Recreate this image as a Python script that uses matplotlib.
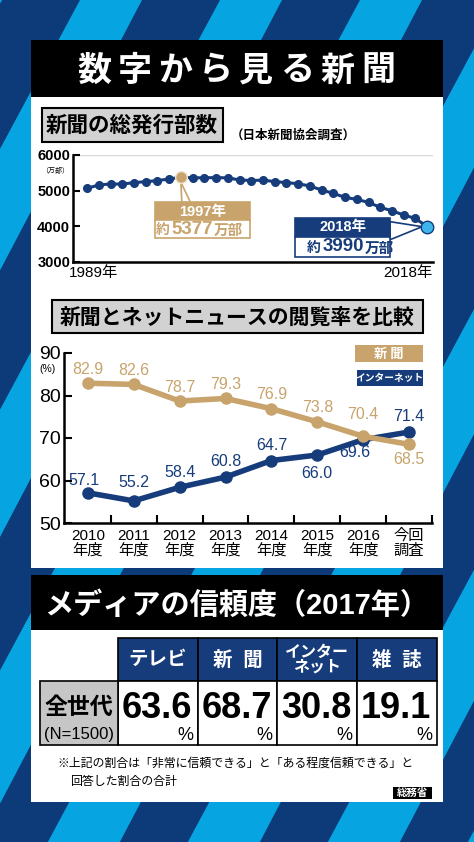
import matplotlib
matplotlib.use('Agg')
import matplotlib.pyplot as plt
from matplotlib.patches import Rectangle, Polygon

plt.rcParams['font.family'] = ['Liberation Sans', 'Noto Sans CJK JP']
JP = ['Noto Sans CJK JP', 'DejaVu Sans']

NAVY = '#163c7b'
GOLD = '#c8a46c'
BG_DARK = '#0d3a78'
BG_LIGHT = '#06a5e2'
W, H = 474, 842

# --- data ---
years = list(range(1989, 2019))
circulation = [5066, 5160, 5187, 5185, 5225, 5253, 5281, 5328, 5377, 5360,
               5362, 5365, 5360, 5300, 5285, 5295, 5255, 5225, 5195, 5131,
               5019, 4925, 4812, 4756, 4672, 4531, 4437, 4316, 4222, 3990]

survey_labels = ['2010\n年度', '2011\n年度', '2012\n年度', '2013\n年度',
                 '2014\n年度', '2015\n年度', '2016\n年度', '今回\n調査']
newspaper_rate = [82.9, 82.6, 78.7, 79.3, 76.9, 73.8, 70.4, 68.5]
internet_rate = [57.1, 55.2, 58.4, 60.8, 64.7, 66.0, 69.6, 71.4]

media = ['テレビ', '新  聞', 'インター\nネット', '雑  誌']
trust = [63.6, 68.7, 30.8, 19.1]


def box(x, y, w, h, fc, ec='none', lw=0, z=1):
    bg.add_patch(Rectangle((x, y), w, h, facecolor=fc, edgecolor=ec, lw=lw, zorder=z))


def to_px(ax, x, y):
    dx, dy = ax.transData.transform((x, y))
    return dx, H - dy


fig = plt.figure(figsize=(W / 100, H / 100), dpi=100)
bg = fig.add_axes([0, 0, 1, 1])
bg.set_xlim(0, W)
bg.set_ylim(H, 0)
bg.axis('off')

# background stripes
box(0, 0, W, H, BG_DARK, z=0)
s = -0.537
for k in range(-3, 7):
    x0 = 80 + 140 * k
    bg.add_patch(Polygon([(x0, 0), (x0 + 62, 0), (x0 + 72 + s * H, H), (x0 + s * H, H)],
                         closed=True, facecolor=BG_LIGHT, edgecolor='none', zorder=0.5))

# panel 1
box(31, 40, 412, 57, 'black')
box(31, 97, 412, 471, 'white')
for i, ch in enumerate('数字から見る新聞'):
    bg.text(94 + i * 40.6, 70, ch, color='white', fontsize=24.5, fontweight='bold',
            family=JP, ha='center', va='center', zorder=3)

box(42, 108, 181, 34, '#d2d2d2', 'black', 1.5, 2)
bg.text(132, 125, '新聞の総発行部数', fontsize=15.5, fontweight='bold', family=JP,
        ha='center', va='center', zorder=3)
bg.text(231, 135, '（日本新聞協会調査）', fontsize=9, fontweight='bold', family=JP,
        ha='left', va='center', zorder=3)

# chart 1
ax1 = fig.add_axes([73 / W, 1 - 262 / H, 360 / W, 107 / H])
ax1.set_xlim(1987.8, 2018.5)
ax1.set_ylim(3000, 6000)
ax1.patch.set_alpha(0)
ax1.axhline(6000, color='#d8d8d8', lw=1, zorder=0)
ax1.plot(years, circulation, color=NAVY, lw=2.2, marker='o', ms=5.5, zorder=3, clip_on=False)
peak = circulation.index(max(circulation))
ax1.plot(years[peak], circulation[peak], 'o', mfc=GOLD, mec='#efe4cf', mew=1, ms=8.5,
         zorder=4, clip_on=False)
ax1.plot(years[-1], circulation[-1], 'o', mfc='#3db5ec', mec=NAVY, mew=1, ms=9,
         zorder=4, clip_on=False)
ax1.set_yticks([3000, 4000, 5000, 6000])
ax1.set_yticklabels(['3000', '4000', '5000', '6000'], fontsize=10.5, fontweight='bold')
ax1.set_xticks([])
ax1.tick_params(axis='y', direction='in', length=5, width=1.5, pad=2)
for sp in ['top', 'right']:
    ax1.spines[sp].set_visible(False)
for sp in ['left', 'bottom']:
    ax1.spines[sp].set_linewidth(1.8)
ax1.annotate('1989年', xy=(0, 0), xycoords='axes fraction', xytext=(-3, -3),
             textcoords='offset points', ha='left', va='top', fontsize=11)
ax1.annotate('2018年', xy=(1, 0), xycoords='axes fraction', xytext=(0, -3),
             textcoords='offset points', ha='right', va='top', fontsize=11)
bg.text(55, 171, '（万部）', fontsize=5, family=JP, ha='center', va='center', zorder=3)

# 1997 callout
px, py = to_px(ax1, years[peak], circulation[peak])
bg.add_patch(Polygon([(px, py + 5), (px + 1, py + 26), (px + 10, py + 26)], closed=True,
                     facecolor='white', edgecolor=GOLD, lw=1.2, zorder=3))
bx = px - 26
box(bx, py + 25, 95, 18, GOLD, GOLD, 1.2, 4)
box(bx, py + 43, 95, 18, 'white', GOLD, 1.2, 4)
bg.text(bx + 47.5, py + 34.5, f'{years[peak]}年', color='white', fontsize=10.5,
        fontweight='bold', ha='center', va='center', zorder=5)
cx = bx + 37
bg.text(cx, py + 52, f'{circulation[peak]}', color=GOLD, fontsize=13.5, fontweight='bold',
        ha='center', va='center', zorder=5)
bg.text(cx - 22, py + 53, '約', color=GOLD, fontsize=10, fontweight='bold', family=JP,
        ha='right', va='center', zorder=5)
bg.text(cx + 22, py + 53, '万部', color=GOLD, fontsize=10.5, fontweight='bold', family=JP,
        ha='left', va='center', zorder=5)

# 2018 callout
qx, qy = to_px(ax1, years[-1], circulation[-1])
bx = qx - 132
bg.add_patch(Polygon([(bx + 95, qy - 5), (bx + 95, qy + 13), (qx - 5, qy)], closed=True,
                     facecolor='white', edgecolor=NAVY, lw=1.2, zorder=3))
box(bx, qy - 9, 95, 19, NAVY, NAVY, 1.2, 4)
box(bx, qy + 10, 95, 20, 'white', NAVY, 1.2, 4)
bg.text(bx + 47.5, qy + 0.5, f'{years[-1]}年', color='white', fontsize=10.5,
        fontweight='bold', ha='center', va='center', zorder=5)
cx = bx + 48
bg.text(cx, qy + 20, f'{circulation[-1]}', color=NAVY, fontsize=13.5, fontweight='bold',
        ha='center', va='center', zorder=5)
bg.text(cx - 22, qy + 21, '約', color=NAVY, fontsize=10, fontweight='bold', family=JP,
        ha='right', va='center', zorder=5)
bg.text(cx + 22, qy + 21, '万部', color=NAVY, fontsize=10.5, fontweight='bold', family=JP,
        ha='left', va='center', zorder=5)

# chart 2
box(52, 300, 371, 33, '#d2d2d2', 'black', 1.5, 2)
bg.text(237.5, 317, '新聞とネットニュースの閲覧率を比較', fontsize=15, fontweight='bold',
        family=JP, ha='center', va='center', zorder=3)

ax2 = fig.add_axes([64 / W, 1 - 523 / H, 368 / W, 170 / H])
ax2.patch.set_alpha(0)
xs = list(range(len(survey_labels)))
ax2.set_xlim(-0.52, 7.48)
ax2.set_ylim(50, 90)
ax2.plot(xs, internet_rate, color=NAVY, lw=4, marker='o', ms=8, zorder=3, clip_on=False)
ax2.plot(xs, newspaper_rate, color=GOLD, lw=4, marker='o', ms=8, zorder=4, clip_on=False)
ax2.set_yticks([50, 60, 70, 80, 90])
ax2.set_yticklabels(['50', '60', '70', '80', '90'], fontsize=14)
ax2.set_xticks(xs)
ax2.set_xticklabels(survey_labels, fontsize=11, linespacing=1.05)
ax2.set_xticks([i + 0.5 for i in xs], minor=True)
ax2.tick_params(axis='y', direction='in', length=6, width=1.5, pad=2)
ax2.tick_params(axis='x', which='major', length=0, pad=4)
ax2.tick_params(axis='x', which='minor', direction='in', length=6, width=1.5)
for sp in ['top', 'right']:
    ax2.spines[sp].set_visible(False)
for sp in ['left', 'bottom']:
    ax2.spines[sp].set_linewidth(1.8)
bg.text(48, 369, '(%)', fontsize=7.5, ha='center', va='center', zorder=3)

news_off = [(0, 10), (0, 10), (0, 10), (0, 10), (0, 10), (0, 10), (0, 16), (0, -11)]
net_off = [(-3, 9), (0, 13), (0, 11), (0, 11), (0, 11), (0, -13), (-6, -9), (0, 11)]
for i in xs:
    ax2.annotate(f'{newspaper_rate[i]:.1f}', (i, newspaper_rate[i]), xytext=news_off[i],
                 textcoords='offset points', ha='center', va='center', color=GOLD,
                 fontsize=11.5, zorder=6)
    ax2.annotate(f'{internet_rate[i]:.1f}', (i, internet_rate[i]), xytext=net_off[i],
                 textcoords='offset points', ha='center', va='center', color=NAVY,
                 fontsize=11.5, zorder=6)

box(355, 345, 68, 17, GOLD, z=2)
bg.text(389, 353.5, '新 聞', color='white', fontsize=9.5, fontweight='bold', family=JP,
        ha='center', va='center', zorder=3)
box(357, 370, 66, 16, NAVY, z=2)
bg.text(390, 378, 'インターネット', color='white', fontsize=7, fontweight='bold', family=JP,
        ha='center', va='center', zorder=3)

# panel 2
box(31, 575, 412, 55, 'black')
box(31, 630, 412, 172, 'white')
bg.text(44, 606, 'メディアの信頼度（2017年）', color='white', fontsize=21,
        fontweight='bold', ha='left', va='center', zorder=3)

cols = [118, 198, 277, 357, 437]
for i, name in enumerate(media):
    x0, x1 = cols[i], cols[i + 1]
    xc = (x0 + x1) / 2
    box(x0, 638, x1 - x0, 43, NAVY, 'black', 1.2, 2)
    box(x0, 681, x1 - x0, 64, 'white', 'black', 1.2, 2)
    fs = 11.5 if '\n' in name else 14
    bg.text(xc, 660, name, color='white', fontsize=fs, fontweight='bold',
            ha='center', va='center', linespacing=0.95, zorder=3)
    bg.text(xc - 1, 709, f'{trust[i]:.1f}', fontsize=26, fontweight='bold',
            ha='center', va='center', zorder=3)
    bg.text(x1 - 5, 735, '%', fontsize=13, ha='right', va='center', zorder=3)
box(40, 681, 78, 64, '#c6c6c6', 'black', 1.2, 2)
bg.text(79, 707, '全世代', fontsize=16.5, fontweight='bold', family=JP,
        ha='center', va='center', zorder=3)
bg.text(79, 734, '(N=1500)', fontsize=12, ha='center', va='center', zorder=3)

bg.text(57, 763, '※上記の割合は「非常に信頼できる」と「ある程度信頼できる」と',
        fontsize=8.6, family=JP, ha='left', va='center', zorder=3)
bg.text(70, 781, '回答した割合の合計', fontsize=8.6, family=JP, ha='left', va='center', zorder=3)
box(393, 787, 39, 12, 'black', z=2)
bg.text(412.5, 793, '総務省', color='white', fontsize=7.5, fontweight='bold', family=JP,
        ha='center', va='center', zorder=3)

fig.savefig('out.png', dpi=100)
